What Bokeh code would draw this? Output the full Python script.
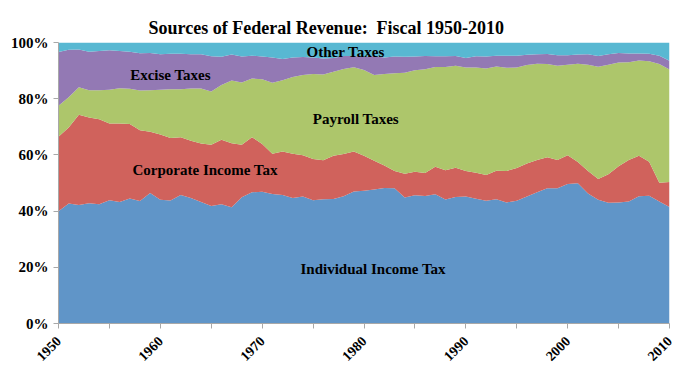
import numpy as np
from bokeh.plotting import figure
from bokeh.models import ColumnDataSource, FixedTicker, PrintfTickFormatter, Range1d
from bokeh.core.properties import value
from bokeh.embed import file_html
from bokeh.resources import INLINE

years = list(range(1950, 2011))
individual = [39.9, 41.9, 42.2, 42.8, 42.4, 43.9, 43.2, 44.5, 43.6, 46.4,
              44.0, 43.8, 45.7, 44.7, 43.2, 41.8, 42.4, 41.3, 44.9, 46.7,
              46.9, 46.1, 45.7, 44.7, 45.2, 43.9, 44.2, 44.3, 45.3, 47.0,
              47.2, 47.7, 48.2, 48.1, 44.8, 45.6, 45.4, 46.0, 44.1, 45.0,
              45.2, 44.4, 43.6, 44.2, 43.1, 43.7, 45.2, 46.7, 48.1, 48.1,
              49.6, 49.9, 46.3, 44.0, 43.0, 43.1, 43.4, 45.3, 45.4, 43.5,
              41.5]
corporate = [26.5, 26.5, 32.1, 30.5, 30.3, 27.3, 28.0, 26.5, 25.2, 21.8,
             23.2, 22.2, 20.6, 20.3, 20.9, 21.8, 23.0, 22.8, 18.7, 19.6,
             17.0, 14.3, 15.5, 15.7, 14.7, 14.6, 13.9, 15.4, 15.0, 14.2,
             12.5, 10.2, 8.0, 6.2, 8.5, 8.4, 8.2, 9.8, 10.4, 10.4,
             9.1, 9.3, 9.2, 10.2, 11.2, 11.6, 11.8, 11.5, 11.0, 10.1,
             10.2, 7.6, 8.0, 7.4, 10.1, 12.9, 14.7, 14.4, 12.1, 6.6,
             8.9]
payroll = [11.0, 10.6, 9.8, 9.7, 10.3, 12.0, 12.5, 12.5, 14.1, 14.8,
           15.9, 17.4, 17.1, 18.6, 19.5, 19.0, 19.5, 22.3, 22.2, 20.9,
           23.0, 25.3, 25.4, 27.3, 28.5, 30.3, 30.5, 29.9, 30.3, 30.0,
           30.5, 30.5, 32.6, 34.8, 35.9, 36.1, 36.9, 35.5, 36.8, 36.3,
           36.8, 37.5, 37.9, 37.1, 36.7, 35.8, 35.1, 34.2, 33.2, 33.5,
           32.2, 34.9, 37.8, 40.0, 39.0, 36.9, 34.8, 33.9, 35.7, 42.3,
           40.0]
excise = [19.1, 16.6, 13.4, 13.7, 14.0, 14.0, 13.3, 13.2, 13.3, 13.3,
          12.6, 12.6, 12.6, 12.2, 12.2, 12.5, 10.0, 9.2, 9.2, 8.1,
          8.1, 9.0, 7.5, 7.0, 6.4, 5.9, 5.7, 4.9, 4.6, 4.0,
          4.7, 6.8, 5.9, 5.9, 5.7, 4.9, 4.7, 3.8, 3.8, 3.5,
          3.4, 4.0, 4.2, 3.8, 4.3, 4.2, 3.6, 3.4, 3.5, 3.8,
          3.4, 3.3, 3.7, 3.8, 3.7, 3.4, 3.1, 2.5, 2.7, 3.0,
          3.1]
other = [3.4, 2.5, 2.5, 3.3, 3.0, 2.8, 3.0, 3.3, 3.8, 3.7,
         4.2, 4.0, 4.0, 4.2, 4.2, 4.9, 5.1, 4.3, 5.0, 4.7,
         5.0, 5.3, 5.9, 5.3, 5.2, 5.3, 5.7, 5.5, 4.8, 4.8,
         5.1, 4.8, 5.3, 5.0, 5.1, 5.0, 4.8, 4.9, 4.9, 4.8,
         5.5, 4.9, 5.0, 4.7, 4.7, 4.7, 4.4, 4.2, 4.1, 4.5,
         4.5, 4.3, 4.2, 4.8, 4.2, 3.7, 3.9, 3.9, 4.0, 4.7,
         6.5]

series_names = ["Individual Income Tax", "Corporate Income Tax", "Payroll Taxes",
                "Excise Taxes", "Other Taxes"]
colors = ["#6095C8", "#D0625C", "#ADC66B", "#9379B4", "#58B8D2"]
y_ticks = [0, 20, 40, 60, 80, 100]
x_ticks = [1950, 1960, 1970, 1980, 1990, 2000, 2010]
x_minor = [1955, 1965, 1975, 1985, 1995, 2005]
title_text = "Sources of Federal Revenue:\u00a0 Fiscal 1950-2010"

# normalise to 100%
tot = np.array(individual) + np.array(corporate) + np.array(payroll) + np.array(excise) + np.array(other)
data = {"year": years}
for name, arr in zip(series_names, [individual, corporate, payroll, excise, other]):
    data[name] = list(np.array(arr) / tot * 100.0)
source = ColumnDataSource(data)

FONT = "Liberation Serif"

p = figure(frame_width=611, frame_height=281, output_backend="svg", toolbar_location=None,
           x_range=Range1d(1950, 2010), y_range=Range1d(0, 100),
           min_border_left=58, min_border_right=12, min_border_top=42, min_border_bottom=40)
p.varea_stack(stackers=series_names, x="year", color=colors, source=source)

p.title.text = title_text
p.title.align = "left"
p.title.offset = 90
p.title.text_font = FONT
p.title.text_font_style = "bold"
p.title.text_font_size = "18px"
p.title.text_color = "black"
p.title.standoff = 9

p.xgrid.visible = False
p.ygrid.visible = False
p.outline_line_color = None

p.xaxis.ticker = FixedTicker(ticks=x_ticks, minor_ticks=x_minor)
p.yaxis.ticker = FixedTicker(ticks=y_ticks)
p.yaxis.formatter = PrintfTickFormatter(format="%d%%")
for ax in (p.xaxis, p.yaxis):
    ax.axis_line_color = "#A8A8A8"
    ax.major_tick_line_color = "#A8A8A8"
    ax.minor_tick_line_color = "#A8A8A8"
    ax.major_tick_in = 0
    ax.major_tick_out = 5
    ax.minor_tick_in = 0
    ax.minor_tick_out = 5
    ax.major_label_text_font = FONT
    ax.major_label_text_font_style = "bold"
    ax.major_label_text_color = "black"
    ax.major_label_text_font_size = "14px"
p.yaxis.minor_tick_line_color = None
p.yaxis.major_label_text_font_size = "15px"
p.xaxis.major_label_orientation = np.pi / 4
p.xaxis.major_label_standoff = 10

label_x = [1980.9, 1964.4, 1979.2, 1961.0, 1978.2]
label_y = [19.3, 54.5, 72.7, 88.6, 96.6]
p.text(x=label_x, y=label_y, text=series_names, text_font=value(FONT),
       text_font_style="bold", text_font_size="15px", text_align="center",
       text_baseline="middle", text_color="black")

open("out.html", "w").write(file_html(p, INLINE))
